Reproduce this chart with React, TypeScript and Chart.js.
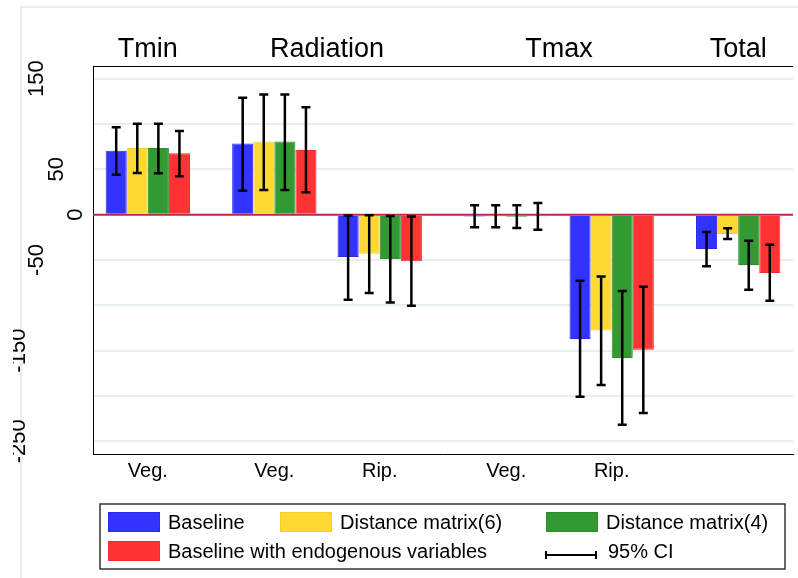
import React, { useEffect, useRef } from 'react';
import { Chart, registerables } from 'chart.js';

Chart.register(...registerables);

// ---------- data ----------
const categories = ['Veg.', 'Veg.', 'Rip.', 'Veg.', 'Rip.', ''];
const variables = ['Tmin', 'Radiation', 'Tmax', 'Total'];
const variableGroups = [[0], [1, 2], [3, 4], [5]];
const seriesNames = ['Baseline', 'Distance matrix(6)', 'Distance matrix(4)', 'Baseline with endogenous variables'];
const ciLabel = '95% CI';

const baseline = [70.6, 78.4, -46.7, -2, -137.2, -37.9];
const baselineLo = [44.1, 26.5, -93.8, -14, -200.9, -57];
const baselineHi = [96.4, 129.1, -1, 10.3, -72.8, -19.1];

const distance6 = [73.6, 80.6, -43, -2, -127.7, -21.3];
const distance6Lo = [46, 27.2, -86.4, -14, -188, -26.8];
const distance6Hi = [100.4, 132.5, -0.5, 10.3, -68.1, -15.1];

const distance4 = [73.6, 80.6, -48.9, -2.2, -158.2, -55.5];
const distance4Lo = [45.6, 27.2, -96.8, -14.7, -231.8, -82.8];
const distance4Hi = [100.4, 132.5, -1.5, 10.3, -84.2, -28.7];

const endogenous = [67.7, 71.4, -51.5, -1.8, -149, -64.4];
const endogenousLo = [42.3, 24.6, -100.4, -16.6, -218.9, -94.9];
const endogenousHi = [92.4, 118.4, -2, 12.9, -79.5, -33.1];

const yTickValues = [150, 50, 0, -50, -150, -250];
const yTickLabels = ['150', '50', '0', '-50', '-150', '-250'];
const yGridValues = [150, 100, 50, 0, -50, -100, -150, -200, -250];

// ---------- layout / style ----------
const FONT = '"Liberation Sans", Arial, Helvetica, sans-serif';
const W = 798;
const H = 578;
const colors = ['#3333ff', '#ffd933', '#339933', '#ff3333'];
const borderColors = ['#2b2bea', '#f5cf2c', '#2e8d2e', '#f02c2c'];
const groupSpacing = [6, 5, 6, 5, 6];
const groupPositions = groupSpacing.reduce((acc: number[], s) => [...acc, acc[acc.length - 1] + s], [0]);
const xMargin = 2.6;
const yLabelBaselineX = [43, 63, 82, 43, 25, 25];
const legendBox = { x: 100, y: 504, w: 685, h: 65 };
const legendSwatches = [
  [108, 512],
  [280, 512],
  [546, 512],
  [108, 541],
];
const legendCI = [545, 541];

const seriesValues = [baseline, distance6, distance4, endogenous];
const seriesLo = [baselineLo, distance6Lo, distance4Lo, endogenousLo];
const seriesHi = [baselineHi, distance6Hi, distance4Hi, endogenousHi];

const decorPlugin = {
  id: 'decor',
  beforeDraw(chart: any) {
    const ctx = chart.ctx;
    ctx.save();
    ctx.fillStyle = '#ffffff';
    ctx.fillRect(0, 0, W, H);
    ctx.strokeStyle = '#e6edf2';
    ctx.lineWidth = 2;
    ctx.beginPath();
    ctx.moveTo(21, H);
    ctx.lineTo(21, 7);
    ctx.lineTo(W, 7);
    ctx.stroke();
    ctx.restore();
  },
  beforeDatasetsDraw(chart: any) {
    const ctx = chart.ctx;
    const area = chart.chartArea;
    const y = chart.scales.y.getPixelForValue(0);
    ctx.save();
    ctx.strokeStyle = '#b8284a';
    ctx.lineWidth = 2;
    ctx.beginPath();
    ctx.moveTo(area.left, y);
    ctx.lineTo(area.right, y);
    ctx.stroke();
    ctx.restore();
  },
  afterDatasetsDraw(chart: any) {
    const ctx = chart.ctx;
    const ys = chart.scales.y;
    ctx.save();
    ctx.strokeStyle = '#000000';
    ctx.lineWidth = 2.5;
    seriesValues.forEach((_, i) => {
      const meta = chart.getDatasetMeta(i);
      meta.data.forEach((bar: any, j: number) => {
        const x = bar.x;
        const y1 = ys.getPixelForValue(seriesLo[i][j]);
        const y2 = ys.getPixelForValue(seriesHi[i][j]);
        ctx.beginPath();
        ctx.moveTo(x, y1);
        ctx.lineTo(x, y2);
        ctx.moveTo(x - 4.5, y1);
        ctx.lineTo(x + 4.5, y1);
        ctx.moveTo(x - 4.5, y2);
        ctx.lineTo(x + 4.5, y2);
        ctx.stroke();
      });
    });
    ctx.restore();
  },
  afterDraw(chart: any) {
    const ctx = chart.ctx;
    const area = chart.chartArea;
    const xs = chart.scales.x;
    const ys = chart.scales.y;
    ctx.save();
    // top border of plot region
    ctx.strokeStyle = '#000000';
    ctx.lineWidth = 1;
    ctx.beginPath();
    ctx.moveTo(area.left, Math.round(area.top) + 0.5);
    ctx.lineTo(area.right, Math.round(area.top) + 0.5);
    ctx.stroke();

    // variable titles
    ctx.fillStyle = '#000000';
    ctx.font = `27px ${FONT}`;
    ctx.textAlign = 'center';
    ctx.textBaseline = 'alphabetic';
    variables.forEach((name, k) => {
      const idx = variableGroups[k];
      const px = idx.reduce((s, g) => s + xs.getPixelForValue(groupPositions[g]), 0) / idx.length;
      ctx.fillText(name, px, 57);
    });

    // rotated y tick labels
    ctx.font = `22px ${FONT}`;
    yTickValues.forEach((v, k) => {
      const py = ys.getPixelForValue(v);
      ctx.save();
      ctx.beginPath();
      ctx.rect(13, 0, W, H);
      ctx.clip();
      ctx.translate(yLabelBaselineX[k], py);
      ctx.rotate(-Math.PI / 2);
      ctx.textAlign = 'center';
      ctx.textBaseline = 'alphabetic';
      ctx.fillText(yTickLabels[k], 0, 0);
      ctx.restore();
    });

    // legend
    ctx.strokeStyle = '#333333';
    ctx.lineWidth = 1.5;
    ctx.strokeRect(legendBox.x, legendBox.y, legendBox.w, legendBox.h);
    ctx.font = `20px ${FONT}`;
    ctx.textAlign = 'left';
    ctx.textBaseline = 'middle';
    seriesNames.forEach((name, i) => {
      const [sx, sy] = legendSwatches[i];
      ctx.fillStyle = colors[i];
      ctx.fillRect(sx, sy, 52, 20);
      ctx.strokeStyle = borderColors[i];
      ctx.lineWidth = 1;
      ctx.strokeRect(sx + 0.5, sy + 0.5, 51, 19);
      ctx.fillStyle = '#000000';
      ctx.fillText(name, sx + 60, sy + 11);
    });
    const [cx, cy] = legendCI;
    ctx.strokeStyle = '#000000';
    ctx.lineWidth = 2;
    ctx.beginPath();
    ctx.moveTo(cx, cy + 14);
    ctx.lineTo(cx + 52, cy + 14);
    ctx.moveTo(cx + 1, cy + 10);
    ctx.lineTo(cx + 1, cy + 18);
    ctx.moveTo(cx + 51, cy + 10);
    ctx.lineTo(cx + 51, cy + 18);
    ctx.stroke();
    ctx.fillStyle = '#000000';
    ctx.fillText(ciLabel, cx + 63, cy + 11);
    ctx.restore();
  },
};

export default function App() {
  const canvasRef = useRef<HTMLCanvasElement | null>(null);

  useEffect(() => {
    if (!canvasRef.current) return;
    const chart = new Chart(canvasRef.current, {
      type: 'bar',
      data: {
        datasets: seriesNames.map((name, i) => ({
          label: name,
          data: seriesValues[i].map((v, j) => ({ x: groupPositions[j], y: v })),
          backgroundColor: colors[i],
          borderColor: borderColors[i],
          borderWidth: 1,
          categoryPercentage: 0.8,
          barPercentage: 1,
        })),
      },
      options: {
        animation: false,
        responsive: false,
        devicePixelRatio: 1,
        layout: { padding: { left: 0, top: 66, right: 5, bottom: 0 } },
        plugins: {
          legend: { display: false },
          tooltip: { enabled: false },
          title: { display: false },
        },
        scales: {
          x: {
            type: 'linear',
            offset: false,
            min: -xMargin,
            max: groupPositions[groupPositions.length - 1] + xMargin,
            afterBuildTicks: (scale: any) => {
              scale.ticks = groupPositions.map((v) => ({ value: v }));
            },
            afterFit: (scale: any) => {
              scale.height = 124;
            },
            ticks: {
              autoSkip: false,
              maxRotation: 0,
              minRotation: 0,
              padding: 5,
              color: '#000000',
              font: { size: 20, family: FONT },
              callback: (_v: any, idx: number) => categories[idx],
            },
            grid: { display: false, drawTicks: false, offset: false },
            border: { display: true, color: '#000000', width: 1 },
          },
          y: {
            type: 'linear',
            min: -264,
            max: 164,
            afterBuildTicks: (scale: any) => {
              scale.ticks = yGridValues.map((v) => ({ value: v }));
            },
            afterFit: (scale: any) => {
              scale.width = 93;
            },
            ticks: { display: false },
            grid: {
              drawTicks: false,
              lineWidth: 2,
              color: (c: any) => (c.tick && c.tick.value === 0 ? 'rgba(0,0,0,0)' : '#e8eef2'),
            },
            border: { display: true, color: '#000000', width: 1 },
          },
        },
      },
      plugins: [decorPlugin],
    } as any);
    return () => chart.destroy();
  }, []);

  return (
    <div style={{ position: 'absolute', left: 0, top: 0, width: W, height: H, background: '#fff' }}>
      <canvas ref={canvasRef} width={W} height={H} style={{ width: W, height: H, display: 'block' }} />
    </div>
  );
}
